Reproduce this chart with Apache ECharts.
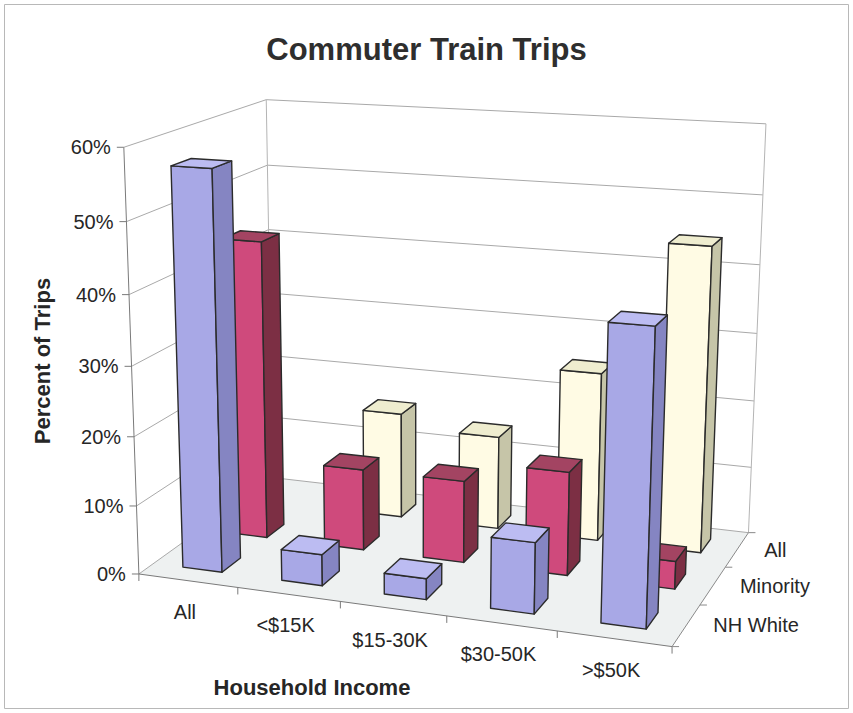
<!DOCTYPE html>
<html><head><meta charset="utf-8">
<script src="https://cdn.jsdelivr.net/npm/echarts@6/dist/echarts.min.js"></script>
<style>html,body{margin:0;padding:0;background:#fff}#c{width:853px;height:713px}</style>
</head><body><div id="c"></div>
<script>
// ---------------- data ----------------
const categories = ['All', '<$15K', '$15-30K', '$30-50K', '>$50K'];
const rowNames = ['NH White', 'Minority', 'All'];          // front -> back
const nhWhite = [57, 4.5, 3, 10, 40.5];
const minority = [44, 12, 12, 15, 4];
const allGroups = [null, 16, 14, 25, 44.5];
const valueTicks = [0, 10, 20, 30, 40, 50, 60];
const tickLabels = ['0%', '10%', '20%', '30%', '40%', '50%', '60%'];

// ---------------- layout: perspective camera calibration ----------------
// [X (category units), Y (value), Z (row units), screenX, screenY]
const calib = [
  [0,0,0,141,574],[1,0,0,239,587.5],[2,0,0,342,602],[3,0,0,446,616.5],[5,0,0,670,647],
  [5,0,3,748,533],[0,0,3,270,477],
  [0,60,0,123,146],[0,50,0,126,221],[0,40,0,128,294],[0,30,0,131,367],[0,20,0,134,437],[0,10,0,137,506],
  [0,60,3,268,101],[0,50,3,268,166],[0,40,3,268,229],
  [5,60,3,765,124],[5,50,3,762,196],[5,40,3,761,264],[5,30,3,758,333],[5,20,3,755,400],[5,10,3,752,467]
];
function solve(A, b) {
  const n = b.length;
  for (let i = 0; i < n; i++) {
    let p = i;
    for (let k = i + 1; k < n; k++) if (Math.abs(A[k][i]) > Math.abs(A[p][i])) p = k;
    [A[i], A[p]] = [A[p], A[i]]; [b[i], b[p]] = [b[p], b[i]];
    for (let k = i + 1; k < n; k++) {
      const f = A[k][i] / A[i][i];
      for (let j = i; j < n; j++) A[k][j] -= f * A[i][j];
      b[k] -= f * b[i];
    }
  }
  const x = new Array(n).fill(0);
  for (let i = n - 1; i >= 0; i--) {
    let s = b[i];
    for (let j = i + 1; j < n; j++) s -= A[i][j] * x[j];
    x[i] = s / A[i][i];
  }
  return x;
}
const cam = (function () {
  const N = 11, A = [], b = new Array(N).fill(0);
  for (let i = 0; i < N; i++) A.push(new Array(N).fill(0));
  calib.forEach(([X, Y0, Z, U, V]) => {
    const Y = Y0 / 10, u = U / 100, v = V / 100;
    const rows = [[[X, Y, Z, 1, 0, 0, 0, 0, -u * X, -u * Y, -u * Z], u],
                  [[0, 0, 0, 0, X, Y, Z, 1, -v * X, -v * Y, -v * Z], v]];
    rows.forEach(([r, rhs]) => {
      for (let i = 0; i < N; i++) { b[i] += r[i] * rhs; for (let j = 0; j < N; j++) A[i][j] += r[i] * r[j]; }
    });
  });
  return solve(A, b);
})();
function P(X, Y0, Z) {
  const Y = Y0 / 10, p = cam;
  const w = p[8] * X + p[9] * Y + p[10] * Z + 1;
  return [100 * (p[0] * X + p[1] * Y + p[2] * Z + p[3]) / w, 100 * (p[4] * X + p[5] * Y + p[6] * Z + p[7]) / w];
}
const NCAT = categories.length, NROW = rowNames.length, VMAX = valueTicks[valueTicks.length - 1];

const FONT = '"Liberation Sans", Arial, Helvetica, sans-serif';
const TXT = '#262626';

// ---------------- frame (walls, floor, grid, labels) ----------------
function renderFrame(params, api) {
  const ch = [];
  const line = (a, b, stroke, lw) => ch.push({ type: 'line', shape: { x1: a[0], y1: a[1], x2: b[0], y2: b[1] }, style: { stroke: stroke, lineWidth: lw || 1 } });
  // floor
  ch.push({ type: 'polygon', shape: { points: [P(0,0,0), P(NCAT,0,0), P(NCAT,0,NROW), P(0,0,NROW)] }, style: { fill: '#eef1f1', stroke: null } });
  // gridlines on walls
  valueTicks.forEach(v => {
    ch.push({ type: 'polyline', shape: { points: [P(0,v,0), P(0,v,NROW), P(NCAT,v,NROW)] }, style: { stroke: '#a9a9a9', lineWidth: 1, fill: null } });
  });
  line(P(0,0,NROW), P(0,VMAX,NROW), '#b4b4b4');
  line(P(NCAT,0,NROW), P(NCAT,VMAX,NROW), '#b4b4b4');
  // floor edges
  line(P(0,0,0), P(NCAT,0,0), '#7a7a7a');
  line(P(NCAT,0,0), P(NCAT,0,NROW), '#8a8a8a');
  // value axis
  line(P(0,0,0), P(0,VMAX,0), '#7a7a7a');
  valueTicks.forEach((v, i) => {
    const a = P(0, v, 0);
    line(a, [a[0] - 7, a[1]], '#7a7a7a');
    ch.push({ type: 'text', x: a[0] - 13, y: a[1], style: { text: tickLabels[i], font: 'normal 20px ' + FONT, fill: TXT, align: 'right', verticalAlign: 'middle' } });
  });
  // category ticks and labels
  for (let c = 0; c <= NCAT; c++) { const a = P(c, 0, 0); line(a, [a[0], a[1] + 7], '#7a7a7a'); }
  categories.forEach((name, c) => {
    const a = P(c + 0.5, 0, 0);
    ch.push({ type: 'text', x: a[0] - 3, y: a[1] + 31, style: { text: name, font: 'normal 20px ' + FONT, fill: TXT, align: 'center', verticalAlign: 'middle' } });
  });
  // depth ticks and labels
  for (let r = 0; r <= NROW; r++) { const a = P(NCAT, 0, r); line(a, [a[0] + 7, a[1]], '#8a8a8a'); }
  rowNames.forEach((name, r) => {
    const a = P(NCAT, 0, r + 0.5);
    ch.push({ type: 'text', x: a[0] + 27, y: a[1], style: { text: name, font: 'normal 20px ' + FONT, fill: TXT, align: 'left', verticalAlign: 'middle' } });
  });
  // axis titles
  ch.push({ type: 'text', x: 42, y: 361, rotation: Math.PI / 2, style: { text: 'Percent of Trips', font: 'bold 22px ' + FONT, fill: TXT, align: 'center', verticalAlign: 'middle' } });
  ch.push({ type: 'text', x: 312, y: 687, style: { text: 'Household Income', font: 'bold 22px ' + FONT, fill: TXT, align: 'center', verticalAlign: 'middle' } });
  return { type: 'group', children: ch };
}

// ---------------- 3D bars ----------------
const HW = 0.2, HD = 0.2;
const rowColors = [
  { front: '#a8a8e6', side: '#8585c2', top: '#bcbcf2' },   // NH White
  { front: '#cf4a7c', side: '#7c2f44', top: '#a34462' },   // Minority
  { front: '#fffbe4', side: '#c6c5a8', top: '#efedcf' }    // All
];
function area(pts) { let s = 0; for (let i = 0; i < pts.length; i++) { const a = pts[i], b = pts[(i + 1) % pts.length]; s += a[0] * b[1] - b[0] * a[1]; } return s / 2; }
function renderBar(params, api) {
  const c = api.value(0), r = api.value(1), v = api.value(2);
  if (v == null || isNaN(v)) return null;
  const x0 = c + 0.5 - HW, x1 = c + 0.5 + HW, z0 = r + 0.5 - HD, z1 = r + 0.5 + HD, y0 = 0, y1 = v;
  const col = rowColors[r];
  const faces = [
    { pts: [[x0,y0,z0],[x0,y1,z0],[x1,y1,z0],[x1,y0,z0]], fill: col.front },
    { pts: [[x0,y0,z1],[x1,y0,z1],[x1,y1,z1],[x0,y1,z1]], fill: col.side },
    { pts: [[x1,y0,z0],[x1,y1,z0],[x1,y1,z1],[x1,y0,z1]], fill: col.side },
    { pts: [[x0,y0,z0],[x0,y0,z1],[x0,y1,z1],[x0,y1,z0]], fill: col.side },
    { pts: [[x0,y1,z0],[x0,y1,z1],[x1,y1,z1],[x1,y1,z0]], fill: col.top }
  ];
  const proj = faces.map(f => f.pts.map(q => P(q[0], q[1], q[2])));
  const ref = Math.sign(area(proj[0]));
  const ch = [];
  faces.forEach((f, i) => {
    if (Math.sign(area(proj[i])) === ref && Math.abs(area(proj[i])) > 0.5) {
      ch.push({ type: 'polygon', shape: { points: proj[i] }, style: { fill: f.fill, stroke: '#2b2b2b', lineWidth: 1.4, lineJoin: 'round' } });
    }
  });
  return { type: 'group', children: ch };
}
function rowData(arr, r) { return arr.map((v, c) => ({ value: [c, r, v] })); }

const chart = echarts.init(document.getElementById('c'), null, { renderer: 'svg' });
chart.setOption({
  animation: false,
  backgroundColor: '#ffffff',
  title: { text: 'Commuter Train Trips', left: 'center', top: 29, textStyle: { fontFamily: FONT, fontSize: 31, fontWeight: 'bold', color: '#2e2e2e' } },
  graphic: [{ type: 'rect', shape: { x: 4.5, y: 4.5, width: 844, height: 704 }, style: { fill: null, stroke: '#b8b8b8', lineWidth: 1 }, silent: true }],
  series: [
    { type: 'custom', name: 'frame', coordinateSystem: 'none', silent: true, z: 1, data: [[0]], renderItem: renderFrame },
    { type: 'custom', name: rowNames[2], coordinateSystem: 'none', silent: true, z: 2, data: rowData(allGroups, 2), renderItem: renderBar },
    { type: 'custom', name: rowNames[1], coordinateSystem: 'none', silent: true, z: 3, data: rowData(minority, 1), renderItem: renderBar },
    { type: 'custom', name: rowNames[0], coordinateSystem: 'none', silent: true, z: 4, data: rowData(nhWhite, 0), renderItem: renderBar }
  ]
});
</script></body></html>
